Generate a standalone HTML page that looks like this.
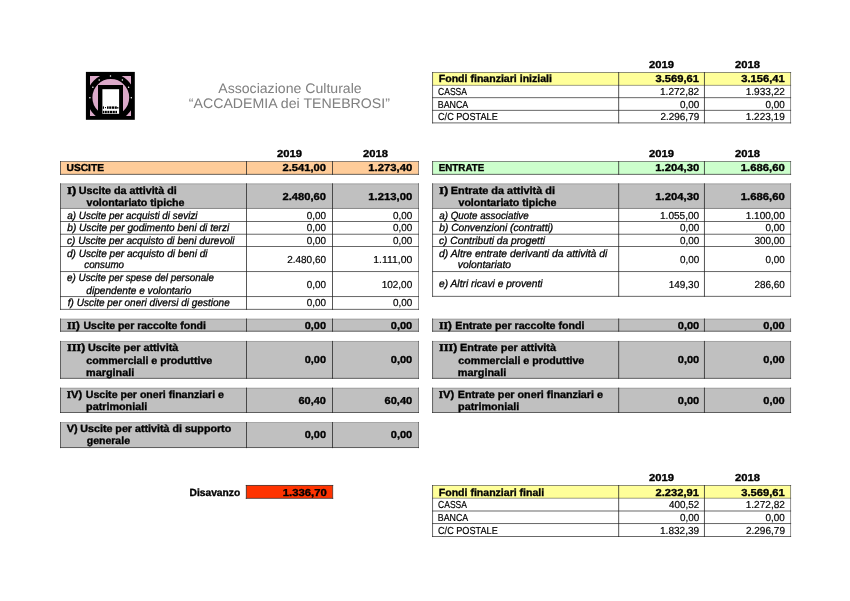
<!DOCTYPE html><html><head><meta charset="utf-8"><style>
html,body{margin:0;padding:0;background:#fff}
svg{display:block;font-family:"Liberation Sans", sans-serif;text-rendering:geometricPrecision}
</style></head><body><div style="position:relative;width:850px;height:601px;overflow:hidden"><svg width="850" height="601" viewBox="0 0 850 601"><rect x="432.60" y="72.50" width="358.00" height="12.80" fill="#ffff99"/><rect x="432.10" y="72.08" width="359.00" height="0.85" fill="#222" opacity="0.6"/><rect x="432.10" y="84.88" width="359.00" height="0.85" fill="#222" opacity="0.5"/><rect x="432.10" y="97.28" width="359.00" height="0.85" fill="#222" opacity="0.8"/><rect x="432.10" y="109.88" width="359.00" height="0.85" fill="#222" opacity="0.8"/><rect x="432.10" y="122.48" width="359.00" height="0.85" fill="#222" opacity="0.8"/><rect x="432.15" y="72.00" width="0.90" height="51.40" fill="#222" opacity="0.75"/><rect x="618.25" y="72.00" width="0.90" height="51.40" fill="#222" opacity="0.85"/><rect x="703.95" y="72.00" width="0.90" height="51.40" fill="#222" opacity="0.85"/><rect x="790.15" y="72.00" width="0.90" height="51.40" fill="#222" opacity="0.55"/><rect x="60.50" y="161.50" width="358.00" height="12.80" fill="#ffcc99"/><rect x="60.00" y="161.07" width="359.00" height="0.85" fill="#222" opacity="0.6"/><rect x="60.00" y="173.88" width="359.00" height="0.85" fill="#222" opacity="0.8"/><rect x="60.05" y="161.00" width="0.90" height="13.80" fill="#222" opacity="0.75"/><rect x="246.05" y="161.00" width="0.90" height="13.80" fill="#222" opacity="0.85"/><rect x="332.05" y="161.00" width="0.90" height="13.80" fill="#222" opacity="0.85"/><rect x="418.05" y="161.00" width="0.90" height="13.80" fill="#222" opacity="0.55"/><rect x="432.60" y="161.50" width="358.00" height="12.80" fill="#ccffcc"/><rect x="432.10" y="161.07" width="359.00" height="0.85" fill="#222" opacity="0.6"/><rect x="432.10" y="173.88" width="359.00" height="0.85" fill="#222" opacity="0.8"/><rect x="432.15" y="161.00" width="0.90" height="13.80" fill="#222" opacity="0.75"/><rect x="618.25" y="161.00" width="0.90" height="13.80" fill="#222" opacity="0.85"/><rect x="703.95" y="161.00" width="0.90" height="13.80" fill="#222" opacity="0.85"/><rect x="790.15" y="161.00" width="0.90" height="13.80" fill="#222" opacity="0.55"/><rect x="60.50" y="183.80" width="358.00" height="24.60" fill="#c0c0c0"/><rect x="60.00" y="183.38" width="359.00" height="0.85" fill="#222" opacity="0.35"/><rect x="60.00" y="207.97" width="359.00" height="0.85" fill="#222" opacity="0.55"/><rect x="60.00" y="221.07" width="359.00" height="0.85" fill="#222" opacity="0.8"/><rect x="60.00" y="233.77" width="359.00" height="0.85" fill="#222" opacity="0.8"/><rect x="60.00" y="246.07" width="359.00" height="0.85" fill="#222" opacity="0.8"/><rect x="60.00" y="271.18" width="359.00" height="0.85" fill="#222" opacity="0.8"/><rect x="60.00" y="296.18" width="359.00" height="0.85" fill="#222" opacity="0.8"/><rect x="60.00" y="308.88" width="359.00" height="0.85" fill="#222" opacity="0.8"/><rect x="60.05" y="183.30" width="0.90" height="126.50" fill="#222" opacity="0.75"/><rect x="246.05" y="183.30" width="0.90" height="126.50" fill="#222" opacity="0.85"/><rect x="332.05" y="183.30" width="0.90" height="126.50" fill="#222" opacity="0.85"/><rect x="418.05" y="183.30" width="0.90" height="126.50" fill="#222" opacity="0.55"/><rect x="432.60" y="183.80" width="358.00" height="24.60" fill="#c0c0c0"/><rect x="432.10" y="183.38" width="359.00" height="0.85" fill="#222" opacity="0.35"/><rect x="432.10" y="207.97" width="359.00" height="0.85" fill="#222" opacity="0.55"/><rect x="432.10" y="221.07" width="359.00" height="0.85" fill="#222" opacity="0.8"/><rect x="432.10" y="233.77" width="359.00" height="0.85" fill="#222" opacity="0.8"/><rect x="432.10" y="246.07" width="359.00" height="0.85" fill="#222" opacity="0.8"/><rect x="432.10" y="271.18" width="359.00" height="0.85" fill="#222" opacity="0.8"/><rect x="432.10" y="295.88" width="359.00" height="0.85" fill="#222" opacity="0.8"/><rect x="432.15" y="183.30" width="0.90" height="113.50" fill="#222" opacity="0.75"/><rect x="618.25" y="183.30" width="0.90" height="113.50" fill="#222" opacity="0.85"/><rect x="703.95" y="183.30" width="0.90" height="113.50" fill="#222" opacity="0.85"/><rect x="790.15" y="183.30" width="0.90" height="113.50" fill="#222" opacity="0.55"/><rect x="60.50" y="319.00" width="358.00" height="12.20" fill="#c0c0c0"/><rect x="60.00" y="318.57" width="359.00" height="0.85" fill="#222" opacity="0.35"/><rect x="60.00" y="330.77" width="359.00" height="0.85" fill="#222" opacity="0.8"/><rect x="60.05" y="318.50" width="0.90" height="13.20" fill="#222" opacity="0.75"/><rect x="246.05" y="318.50" width="0.90" height="13.20" fill="#222" opacity="0.85"/><rect x="332.05" y="318.50" width="0.90" height="13.20" fill="#222" opacity="0.85"/><rect x="418.05" y="318.50" width="0.90" height="13.20" fill="#222" opacity="0.55"/><rect x="60.50" y="341.40" width="358.00" height="36.90" fill="#c0c0c0"/><rect x="60.00" y="340.97" width="359.00" height="0.85" fill="#222" opacity="0.35"/><rect x="60.00" y="377.88" width="359.00" height="0.85" fill="#222" opacity="0.8"/><rect x="60.05" y="340.90" width="0.90" height="37.90" fill="#222" opacity="0.75"/><rect x="246.05" y="340.90" width="0.90" height="37.90" fill="#222" opacity="0.85"/><rect x="332.05" y="340.90" width="0.90" height="37.90" fill="#222" opacity="0.85"/><rect x="418.05" y="340.90" width="0.90" height="37.90" fill="#222" opacity="0.55"/><rect x="60.50" y="388.10" width="358.00" height="24.40" fill="#c0c0c0"/><rect x="60.00" y="387.68" width="359.00" height="0.85" fill="#222" opacity="0.35"/><rect x="60.00" y="412.07" width="359.00" height="0.85" fill="#222" opacity="0.8"/><rect x="60.05" y="387.60" width="0.90" height="25.40" fill="#222" opacity="0.75"/><rect x="246.05" y="387.60" width="0.90" height="25.40" fill="#222" opacity="0.85"/><rect x="332.05" y="387.60" width="0.90" height="25.40" fill="#222" opacity="0.85"/><rect x="418.05" y="387.60" width="0.90" height="25.40" fill="#222" opacity="0.55"/><rect x="432.60" y="319.00" width="358.00" height="12.20" fill="#c0c0c0"/><rect x="432.10" y="318.57" width="359.00" height="0.85" fill="#222" opacity="0.35"/><rect x="432.10" y="330.77" width="359.00" height="0.85" fill="#222" opacity="0.8"/><rect x="432.15" y="318.50" width="0.90" height="13.20" fill="#222" opacity="0.75"/><rect x="618.25" y="318.50" width="0.90" height="13.20" fill="#222" opacity="0.85"/><rect x="703.95" y="318.50" width="0.90" height="13.20" fill="#222" opacity="0.85"/><rect x="790.15" y="318.50" width="0.90" height="13.20" fill="#222" opacity="0.55"/><rect x="432.60" y="341.40" width="358.00" height="36.90" fill="#c0c0c0"/><rect x="432.10" y="340.97" width="359.00" height="0.85" fill="#222" opacity="0.35"/><rect x="432.10" y="377.88" width="359.00" height="0.85" fill="#222" opacity="0.8"/><rect x="432.15" y="340.90" width="0.90" height="37.90" fill="#222" opacity="0.75"/><rect x="618.25" y="340.90" width="0.90" height="37.90" fill="#222" opacity="0.85"/><rect x="703.95" y="340.90" width="0.90" height="37.90" fill="#222" opacity="0.85"/><rect x="790.15" y="340.90" width="0.90" height="37.90" fill="#222" opacity="0.55"/><rect x="432.60" y="388.10" width="358.00" height="24.40" fill="#c0c0c0"/><rect x="432.10" y="387.68" width="359.00" height="0.85" fill="#222" opacity="0.35"/><rect x="432.10" y="412.07" width="359.00" height="0.85" fill="#222" opacity="0.8"/><rect x="432.15" y="387.60" width="0.90" height="25.40" fill="#222" opacity="0.75"/><rect x="618.25" y="387.60" width="0.90" height="25.40" fill="#222" opacity="0.85"/><rect x="703.95" y="387.60" width="0.90" height="25.40" fill="#222" opacity="0.85"/><rect x="790.15" y="387.60" width="0.90" height="25.40" fill="#222" opacity="0.55"/><rect x="60.50" y="422.50" width="358.00" height="25.10" fill="#c0c0c0"/><rect x="60.00" y="422.07" width="359.00" height="0.85" fill="#222" opacity="0.35"/><rect x="60.00" y="447.18" width="359.00" height="0.85" fill="#222" opacity="0.8"/><rect x="60.05" y="422.00" width="0.90" height="26.10" fill="#222" opacity="0.75"/><rect x="246.05" y="422.00" width="0.90" height="26.10" fill="#222" opacity="0.85"/><rect x="332.05" y="422.00" width="0.90" height="26.10" fill="#222" opacity="0.85"/><rect x="418.05" y="422.00" width="0.90" height="26.10" fill="#222" opacity="0.55"/><rect x="246.30" y="485.30" width="86.40" height="13.00" fill="#ff3300"/><rect x="245.80" y="484.97" width="87.40" height="0.85" fill="#222" opacity="0.8"/><rect x="245.80" y="497.88" width="87.40" height="0.85" fill="#222" opacity="0.8"/><rect x="245.85" y="485.00" width="0.90" height="13.80" fill="#222" opacity="0.8"/><rect x="332.25" y="485.00" width="0.90" height="13.80" fill="#222" opacity="0.7"/><rect x="432.60" y="485.50" width="358.00" height="12.70" fill="#ffff99"/><rect x="432.10" y="485.07" width="359.00" height="0.85" fill="#222" opacity="0.6"/><rect x="432.10" y="497.77" width="359.00" height="0.85" fill="#222" opacity="0.5"/><rect x="432.10" y="510.57" width="359.00" height="0.85" fill="#222" opacity="0.8"/><rect x="432.10" y="523.18" width="359.00" height="0.85" fill="#222" opacity="0.8"/><rect x="432.10" y="536.08" width="359.00" height="0.85" fill="#222" opacity="0.8"/><rect x="432.15" y="485.00" width="0.90" height="52.00" fill="#222" opacity="0.75"/><rect x="618.25" y="485.00" width="0.90" height="52.00" fill="#222" opacity="0.85"/><rect x="703.95" y="485.00" width="0.90" height="52.00" fill="#222" opacity="0.85"/><rect x="790.15" y="485.00" width="0.90" height="52.00" fill="#222" opacity="0.55"/><g>
<rect x="85.9" y="71.9" width="48.9" height="47.9" fill="#000"/>
<rect x="90" y="76" width="41" height="40" fill="#dcaaca"/>
<clipPath id="lc"><rect x="90" y="76" width="41" height="40"/></clipPath>
<g clip-path="url(#lc)"><circle cx="110.8" cy="97.4" r="21.15" fill="none" stroke="#000" stroke-width="5.5"/></g>
<rect x="98" y="85" width="25" height="33" fill="#000"/>
<rect x="102.4" y="89.2" width="16.7" height="24.6" fill="#fff"/>
<g fill="#000"><rect x="102.8" y="106.4" width="1.2" height="2.4"/><rect x="105" y="107" width="1" height="1.2"/><rect x="107" y="106.4" width="1.6" height="2.4"/><rect x="109.2" y="106.4" width="2.2" height="2.4"/><rect x="112" y="106.4" width="2.4" height="2.4"/><rect x="115" y="106.4" width="1.8" height="2.4"/><rect x="117.2" y="107" width="1.2" height="1.6"/>
<rect x="102.8" y="110.8" width="1.6" height="2.4"/><rect x="105" y="110.8" width="1.8" height="2.4"/><rect x="107.4" y="110.8" width="1.8" height="2.4"/><rect x="109.8" y="110.8" width="2.2" height="2.4"/><rect x="112.6" y="110.8" width="2.2" height="2.4"/><rect x="115.4" y="110.8" width="1.6" height="2.4"/></g>
<g fill="#fff"><circle cx="110.5" cy="76.1" r=".75"/><circle cx="122.4" cy="80" r=".75"/><circle cx="99.2" cy="80" r=".75"/><circle cx="128.6" cy="87.2" r=".75"/><circle cx="92.9" cy="87.2" r=".75"/><circle cx="131.3" cy="97.8" r=".75"/><circle cx="89.9" cy="97.8" r=".75"/></g>
</g>
</svg><div style="position:absolute;left:0;top:0;will-change:transform;opacity:.999"><svg width="850" height="601" viewBox="0 0 850 601"><text x="218.26" y="92.80" textLength="143.44" lengthAdjust="spacingAndGlyphs" font-size="13.8" fill="#808080" style="">Associazione Culturale</text><text x="188.78" y="108.30" textLength="201.18" lengthAdjust="spacingAndGlyphs" font-size="13.8" fill="#808080" style="">“ACCADEMIA dei TENEBROSI”</text><text x="649.02" y="68.00" textLength="24.97" lengthAdjust="spacingAndGlyphs" font-size="10.1" fill="#000" style="font-weight:bold;stroke:#000;stroke-width:.35px">2019</text><text x="735.02" y="68.00" textLength="24.96" lengthAdjust="spacingAndGlyphs" font-size="10.1" fill="#000" style="font-weight:bold;stroke:#000;stroke-width:.35px">2018</text><text x="277.02" y="157.00" textLength="24.96" lengthAdjust="spacingAndGlyphs" font-size="10.1" fill="#000" style="font-weight:bold;stroke:#000;stroke-width:.35px">2019</text><text x="363.02" y="157.00" textLength="24.96" lengthAdjust="spacingAndGlyphs" font-size="10.1" fill="#000" style="font-weight:bold;stroke:#000;stroke-width:.35px">2018</text><text x="649.02" y="157.00" textLength="24.97" lengthAdjust="spacingAndGlyphs" font-size="10.1" fill="#000" style="font-weight:bold;stroke:#000;stroke-width:.35px">2019</text><text x="735.02" y="157.00" textLength="24.96" lengthAdjust="spacingAndGlyphs" font-size="10.1" fill="#000" style="font-weight:bold;stroke:#000;stroke-width:.35px">2018</text><text x="649.02" y="481.00" textLength="24.97" lengthAdjust="spacingAndGlyphs" font-size="10.1" fill="#000" style="font-weight:bold;stroke:#000;stroke-width:.35px">2019</text><text x="735.02" y="481.00" textLength="24.96" lengthAdjust="spacingAndGlyphs" font-size="10.1" fill="#000" style="font-weight:bold;stroke:#000;stroke-width:.35px">2018</text><text x="438.79" y="82.00" textLength="113.18" lengthAdjust="spacingAndGlyphs" font-size="10.4" fill="#000" style="font-weight:bold;stroke:#000;stroke-width:.35px">Fondi finanziari iniziali</text><text x="438.03" y="95.00" textLength="28.97" lengthAdjust="spacingAndGlyphs" font-size="10.1" fill="#000" style="stroke:#000;stroke-width:.2px">CASSA</text><text x="437.81" y="108.00" textLength="30.46" lengthAdjust="spacingAndGlyphs" font-size="10.1" fill="#000" style="stroke:#000;stroke-width:.2px">BANCA</text><text x="438.03" y="120.00" textLength="59.71" lengthAdjust="spacingAndGlyphs" font-size="10.1" fill="#000" style="stroke:#000;stroke-width:.2px">C/C POSTALE</text><text x="655.52" y="82.00" textLength="43.48" lengthAdjust="spacingAndGlyphs" font-size="10.1" fill="#000" style="font-weight:bold;stroke:#000;stroke-width:.35px">3.569,61</text><text x="741.26" y="82.00" textLength="43.48" lengthAdjust="spacingAndGlyphs" font-size="10.1" fill="#000" style="font-weight:bold;stroke:#000;stroke-width:.35px">3.156,41</text><text x="659.98" y="95.00" textLength="39.27" lengthAdjust="spacingAndGlyphs" font-size="10.1" fill="#000" style="stroke:#000;stroke-width:.2px">1.272,82</text><text x="745.71" y="95.00" textLength="39.27" lengthAdjust="spacingAndGlyphs" font-size="10.1" fill="#000" style="stroke:#000;stroke-width:.2px">1.933,22</text><text x="679.96" y="108.00" textLength="19.27" lengthAdjust="spacingAndGlyphs" font-size="10.1" fill="#000" style="stroke:#000;stroke-width:.2px">0,00</text><text x="765.47" y="108.00" textLength="19.27" lengthAdjust="spacingAndGlyphs" font-size="10.1" fill="#000" style="stroke:#000;stroke-width:.2px">0,00</text><text x="660.43" y="120.00" textLength="38.80" lengthAdjust="spacingAndGlyphs" font-size="10.1" fill="#000" style="stroke:#000;stroke-width:.2px">2.296,79</text><text x="745.71" y="120.00" textLength="39.04" lengthAdjust="spacingAndGlyphs" font-size="10.1" fill="#000" style="stroke:#000;stroke-width:.2px">1.223,19</text><text x="66.53" y="171.00" textLength="37.45" lengthAdjust="spacingAndGlyphs" font-size="10.1" fill="#000" style="font-weight:bold;stroke:#000;stroke-width:.35px">USCITE</text><text x="282.51" y="171.00" textLength="43.48" lengthAdjust="spacingAndGlyphs" font-size="10.1" fill="#000" style="font-weight:bold;stroke:#000;stroke-width:.35px">2.541,00</text><text x="368.31" y="171.00" textLength="43.94" lengthAdjust="spacingAndGlyphs" font-size="10.1" fill="#000" style="font-weight:bold;stroke:#000;stroke-width:.35px">1.273,40</text><text x="438.79" y="171.00" textLength="45.46" lengthAdjust="spacingAndGlyphs" font-size="10.1" fill="#000" style="font-weight:bold;stroke:#000;stroke-width:.35px">ENTRATE</text><text x="655.30" y="171.00" textLength="43.94" lengthAdjust="spacingAndGlyphs" font-size="10.1" fill="#000" style="font-weight:bold;stroke:#000;stroke-width:.35px">1.204,30</text><text x="740.81" y="171.00" textLength="43.94" lengthAdjust="spacingAndGlyphs" font-size="10.1" fill="#000" style="font-weight:bold;stroke:#000;stroke-width:.35px">1.686,60</text><text x="67.02" y="194.00" textLength="9.48" lengthAdjust="spacingAndGlyphs" font-size="10.4" fill="#000" style="font-weight:bold;stroke:#000;stroke-width:.35px"><tspan font-family="Liberation Serif">I</tspan>)</text><text x="78.80" y="194.00" textLength="97.91" lengthAdjust="spacingAndGlyphs" font-size="10.4" fill="#000" style="font-weight:bold;stroke:#000;stroke-width:.35px">Uscite da attività di</text><text x="86.48" y="206.00" textLength="98.01" lengthAdjust="spacingAndGlyphs" font-size="10.4" fill="#000" style="font-weight:bold;stroke:#000;stroke-width:.35px">volontariato tipiche</text><text x="282.51" y="200.00" textLength="43.48" lengthAdjust="spacingAndGlyphs" font-size="10.1" fill="#000" style="font-weight:bold;stroke:#000;stroke-width:.35px">2.480,60</text><text x="368.31" y="200.00" textLength="43.94" lengthAdjust="spacingAndGlyphs" font-size="10.1" fill="#000" style="font-weight:bold;stroke:#000;stroke-width:.35px">1.213,00</text><text x="67.25" y="219.00" textLength="130.31" lengthAdjust="spacingAndGlyphs" font-size="10.4" fill="#000" style="font-style:italic;stroke:#000;stroke-width:.3px">a) Uscite per acquisti di sevizi</text><text x="306.73" y="219.00" textLength="19.27" lengthAdjust="spacingAndGlyphs" font-size="10.1" fill="#000" style="stroke:#000;stroke-width:.2px">0,00</text><text x="392.97" y="219.00" textLength="19.27" lengthAdjust="spacingAndGlyphs" font-size="10.1" fill="#000" style="stroke:#000;stroke-width:.2px">0,00</text><text x="67.25" y="231.00" textLength="162.04" lengthAdjust="spacingAndGlyphs" font-size="10.4" fill="#000" style="font-style:italic;stroke:#000;stroke-width:.3px">b) Uscite per godimento beni di terzi</text><text x="306.73" y="231.00" textLength="19.27" lengthAdjust="spacingAndGlyphs" font-size="10.1" fill="#000" style="stroke:#000;stroke-width:.2px">0,00</text><text x="392.97" y="231.00" textLength="19.27" lengthAdjust="spacingAndGlyphs" font-size="10.1" fill="#000" style="stroke:#000;stroke-width:.2px">0,00</text><text x="67.02" y="244.00" textLength="167.53" lengthAdjust="spacingAndGlyphs" font-size="10.4" fill="#000" style="font-style:italic;stroke:#000;stroke-width:.3px">c) Uscite per acquisto di beni durevoli</text><text x="306.73" y="244.00" textLength="19.27" lengthAdjust="spacingAndGlyphs" font-size="10.1" fill="#000" style="stroke:#000;stroke-width:.2px">0,00</text><text x="392.97" y="244.00" textLength="19.27" lengthAdjust="spacingAndGlyphs" font-size="10.1" fill="#000" style="stroke:#000;stroke-width:.2px">0,00</text><text x="67.02" y="257.00" textLength="140.52" lengthAdjust="spacingAndGlyphs" font-size="10.4" fill="#000" style="font-style:italic;stroke:#000;stroke-width:.3px">d) Uscite per acquisto di beni di</text><text x="84.27" y="268.00" textLength="39.73" lengthAdjust="spacingAndGlyphs" font-size="10.4" fill="#000" style="font-style:italic;stroke:#000;stroke-width:.3px">consumo</text><text x="287.19" y="263.00" textLength="38.80" lengthAdjust="spacingAndGlyphs" font-size="10.1" fill="#000" style="stroke:#000;stroke-width:.2px">2.480,60</text><text x="373.21" y="263.00" textLength="39.04" lengthAdjust="spacingAndGlyphs" font-size="10.1" fill="#000" style="stroke:#000;stroke-width:.2px">1.111,00</text><text x="67.02" y="281.00" textLength="146.96" lengthAdjust="spacingAndGlyphs" font-size="10.4" fill="#000" style="font-style:italic;stroke:#000;stroke-width:.3px">e) Uscite per spese del personale</text><text x="86.25" y="294.00" textLength="105.25" lengthAdjust="spacingAndGlyphs" font-size="10.4" fill="#000" style="font-style:italic;stroke:#000;stroke-width:.3px">dipendente e volontario</text><text x="306.73" y="288.00" textLength="19.27" lengthAdjust="spacingAndGlyphs" font-size="10.1" fill="#000" style="stroke:#000;stroke-width:.2px">0,00</text><text x="381.67" y="288.00" textLength="30.59" lengthAdjust="spacingAndGlyphs" font-size="10.1" fill="#000" style="stroke:#000;stroke-width:.2px">102,00</text><text x="67.78" y="306.00" textLength="161.96" lengthAdjust="spacingAndGlyphs" font-size="10.4" fill="#000" style="font-style:italic;stroke:#000;stroke-width:.3px">f) Uscite per oneri diversi di gestione</text><text x="306.73" y="306.00" textLength="19.27" lengthAdjust="spacingAndGlyphs" font-size="10.1" fill="#000" style="stroke:#000;stroke-width:.2px">0,00</text><text x="392.97" y="306.00" textLength="19.27" lengthAdjust="spacingAndGlyphs" font-size="10.1" fill="#000" style="stroke:#000;stroke-width:.2px">0,00</text><text x="67.02" y="329.00" textLength="12.96" lengthAdjust="spacingAndGlyphs" font-size="10.4" fill="#000" style="font-weight:bold;stroke:#000;stroke-width:.35px"><tspan font-family="Liberation Serif">II</tspan>)</text><text x="83.52" y="329.00" textLength="122.44" lengthAdjust="spacingAndGlyphs" font-size="10.4" fill="#000" style="font-weight:bold;stroke:#000;stroke-width:.35px">Uscite per raccolte fondi</text><text x="304.75" y="329.00" textLength="21.24" lengthAdjust="spacingAndGlyphs" font-size="10.1" fill="#000" style="font-weight:bold;stroke:#000;stroke-width:.35px">0,00</text><text x="390.77" y="329.00" textLength="21.47" lengthAdjust="spacingAndGlyphs" font-size="10.1" fill="#000" style="font-weight:bold;stroke:#000;stroke-width:.35px">0,00</text><text x="67.02" y="351.00" textLength="18.45" lengthAdjust="spacingAndGlyphs" font-size="10.4" fill="#000" style="font-weight:bold;stroke:#000;stroke-width:.35px"><tspan font-family="Liberation Serif">III</tspan>)</text><text x="88.04" y="351.00" textLength="90.24" lengthAdjust="spacingAndGlyphs" font-size="10.4" fill="#000" style="font-weight:bold;stroke:#000;stroke-width:.35px">Uscite per attività</text><text x="86.25" y="364.00" textLength="125.99" lengthAdjust="spacingAndGlyphs" font-size="10.4" fill="#000" style="font-weight:bold;stroke:#000;stroke-width:.35px">commerciali e produttive</text><text x="86.03" y="376.00" textLength="48.19" lengthAdjust="spacingAndGlyphs" font-size="10.4" fill="#000" style="font-weight:bold;stroke:#000;stroke-width:.35px">marginali</text><text x="304.75" y="363.00" textLength="21.24" lengthAdjust="spacingAndGlyphs" font-size="10.1" fill="#000" style="font-weight:bold;stroke:#000;stroke-width:.35px">0,00</text><text x="390.77" y="363.00" textLength="21.47" lengthAdjust="spacingAndGlyphs" font-size="10.1" fill="#000" style="font-weight:bold;stroke:#000;stroke-width:.35px">0,00</text><text x="66.77" y="398.00" textLength="15.47" lengthAdjust="spacingAndGlyphs" font-size="10.4" fill="#000" style="font-weight:bold;stroke:#000;stroke-width:.35px"><tspan font-family="Liberation Serif">I</tspan>V)</text><text x="85.78" y="398.00" textLength="138.21" lengthAdjust="spacingAndGlyphs" font-size="10.4" fill="#000" style="font-weight:bold;stroke:#000;stroke-width:.35px">Uscite per oneri finanziari e</text><text x="86.05" y="410.00" textLength="61.17" lengthAdjust="spacingAndGlyphs" font-size="10.4" fill="#000" style="font-weight:bold;stroke:#000;stroke-width:.35px">patrimoniali</text><text x="298.50" y="404.00" textLength="27.49" lengthAdjust="spacingAndGlyphs" font-size="10.1" fill="#000" style="font-weight:bold;stroke:#000;stroke-width:.35px">60,40</text><text x="384.52" y="404.00" textLength="27.72" lengthAdjust="spacingAndGlyphs" font-size="10.1" fill="#000" style="font-weight:bold;stroke:#000;stroke-width:.35px">60,40</text><text x="66.75" y="432.00" textLength="10.99" lengthAdjust="spacingAndGlyphs" font-size="10.4" fill="#000" style="font-weight:bold;stroke:#000;stroke-width:.35px">V)</text><text x="80.30" y="432.00" textLength="150.93" lengthAdjust="spacingAndGlyphs" font-size="10.4" fill="#000" style="font-weight:bold;stroke:#000;stroke-width:.35px">Uscite per attività di supporto</text><text x="86.75" y="444.00" textLength="43.23" lengthAdjust="spacingAndGlyphs" font-size="10.4" fill="#000" style="font-weight:bold;stroke:#000;stroke-width:.35px">generale</text><text x="304.75" y="438.00" textLength="21.24" lengthAdjust="spacingAndGlyphs" font-size="10.1" fill="#000" style="font-weight:bold;stroke:#000;stroke-width:.35px">0,00</text><text x="390.77" y="438.00" textLength="21.47" lengthAdjust="spacingAndGlyphs" font-size="10.1" fill="#000" style="font-weight:bold;stroke:#000;stroke-width:.35px">0,00</text><text x="439.02" y="194.00" textLength="9.48" lengthAdjust="spacingAndGlyphs" font-size="10.4" fill="#000" style="font-weight:bold;stroke:#000;stroke-width:.35px"><tspan font-family="Liberation Serif">I</tspan>)</text><text x="450.79" y="194.00" textLength="104.16" lengthAdjust="spacingAndGlyphs" font-size="10.4" fill="#000" style="font-weight:bold;stroke:#000;stroke-width:.35px">Entrate da attività di</text><text x="458.48" y="206.00" textLength="98.01" lengthAdjust="spacingAndGlyphs" font-size="10.4" fill="#000" style="font-weight:bold;stroke:#000;stroke-width:.35px">volontariato tipiche</text><text x="655.30" y="200.00" textLength="43.94" lengthAdjust="spacingAndGlyphs" font-size="10.1" fill="#000" style="font-weight:bold;stroke:#000;stroke-width:.35px">1.204,30</text><text x="740.81" y="200.00" textLength="43.94" lengthAdjust="spacingAndGlyphs" font-size="10.1" fill="#000" style="font-weight:bold;stroke:#000;stroke-width:.35px">1.686,60</text><text x="439.24" y="219.00" textLength="89.49" lengthAdjust="spacingAndGlyphs" font-size="10.4" fill="#000" style="font-style:italic;stroke:#000;stroke-width:.3px">a) Quote associative</text><text x="659.98" y="219.00" textLength="39.27" lengthAdjust="spacingAndGlyphs" font-size="10.1" fill="#000" style="stroke:#000;stroke-width:.2px">1.055,00</text><text x="745.71" y="219.00" textLength="39.03" lengthAdjust="spacingAndGlyphs" font-size="10.1" fill="#000" style="stroke:#000;stroke-width:.2px">1.100,00</text><text x="439.24" y="231.00" textLength="113.97" lengthAdjust="spacingAndGlyphs" font-size="10.4" fill="#000" style="font-style:italic;stroke:#000;stroke-width:.3px">b) Convenzioni (contratti)</text><text x="679.96" y="231.00" textLength="19.27" lengthAdjust="spacingAndGlyphs" font-size="10.1" fill="#000" style="stroke:#000;stroke-width:.2px">0,00</text><text x="765.47" y="231.00" textLength="19.27" lengthAdjust="spacingAndGlyphs" font-size="10.1" fill="#000" style="stroke:#000;stroke-width:.2px">0,00</text><text x="439.02" y="244.00" textLength="106.02" lengthAdjust="spacingAndGlyphs" font-size="10.4" fill="#000" style="font-style:italic;stroke:#000;stroke-width:.3px">c) Contributi da progetti</text><text x="679.96" y="244.00" textLength="19.27" lengthAdjust="spacingAndGlyphs" font-size="10.1" fill="#000" style="stroke:#000;stroke-width:.2px">0,00</text><text x="754.39" y="244.00" textLength="30.35" lengthAdjust="spacingAndGlyphs" font-size="10.1" fill="#000" style="stroke:#000;stroke-width:.2px">300,00</text><text x="439.02" y="257.00" textLength="168.28" lengthAdjust="spacingAndGlyphs" font-size="10.4" fill="#000" style="font-style:italic;stroke:#000;stroke-width:.3px">d) Altre entrate derivanti da attività di</text><text x="457.81" y="268.00" textLength="53.20" lengthAdjust="spacingAndGlyphs" font-size="10.4" fill="#000" style="font-style:italic;stroke:#000;stroke-width:.3px">volontariato</text><text x="679.96" y="263.00" textLength="19.27" lengthAdjust="spacingAndGlyphs" font-size="10.1" fill="#000" style="stroke:#000;stroke-width:.2px">0,00</text><text x="765.47" y="263.00" textLength="19.27" lengthAdjust="spacingAndGlyphs" font-size="10.1" fill="#000" style="stroke:#000;stroke-width:.2px">0,00</text><text x="439.02" y="287.00" textLength="103.51" lengthAdjust="spacingAndGlyphs" font-size="10.4" fill="#000" style="font-style:italic;stroke:#000;stroke-width:.3px">e) Altri ricavi e proventi</text><text x="668.66" y="288.00" textLength="30.59" lengthAdjust="spacingAndGlyphs" font-size="10.1" fill="#000" style="stroke:#000;stroke-width:.2px">149,30</text><text x="754.39" y="288.00" textLength="30.35" lengthAdjust="spacingAndGlyphs" font-size="10.1" fill="#000" style="stroke:#000;stroke-width:.2px">286,60</text><text x="439.02" y="329.00" textLength="12.96" lengthAdjust="spacingAndGlyphs" font-size="10.4" fill="#000" style="font-weight:bold;stroke:#000;stroke-width:.35px"><tspan font-family="Liberation Serif">II</tspan>)</text><text x="455.29" y="329.00" textLength="129.18" lengthAdjust="spacingAndGlyphs" font-size="10.4" fill="#000" style="font-weight:bold;stroke:#000;stroke-width:.35px">Entrate per raccolte fondi</text><text x="677.76" y="329.00" textLength="21.47" lengthAdjust="spacingAndGlyphs" font-size="10.1" fill="#000" style="font-weight:bold;stroke:#000;stroke-width:.35px">0,00</text><text x="763.27" y="329.00" textLength="21.47" lengthAdjust="spacingAndGlyphs" font-size="10.1" fill="#000" style="font-weight:bold;stroke:#000;stroke-width:.35px">0,00</text><text x="439.02" y="351.00" textLength="18.45" lengthAdjust="spacingAndGlyphs" font-size="10.4" fill="#000" style="font-weight:bold;stroke:#000;stroke-width:.35px"><tspan font-family="Liberation Serif">III</tspan>)</text><text x="460.04" y="351.00" textLength="96.00" lengthAdjust="spacingAndGlyphs" font-size="10.4" fill="#000" style="font-weight:bold;stroke:#000;stroke-width:.35px">Entrate per attività</text><text x="458.26" y="364.00" textLength="125.99" lengthAdjust="spacingAndGlyphs" font-size="10.4" fill="#000" style="font-weight:bold;stroke:#000;stroke-width:.35px">commerciali e produttive</text><text x="457.81" y="376.00" textLength="48.42" lengthAdjust="spacingAndGlyphs" font-size="10.4" fill="#000" style="font-weight:bold;stroke:#000;stroke-width:.35px">marginali</text><text x="677.76" y="363.00" textLength="21.47" lengthAdjust="spacingAndGlyphs" font-size="10.1" fill="#000" style="font-weight:bold;stroke:#000;stroke-width:.35px">0,00</text><text x="763.27" y="363.00" textLength="21.47" lengthAdjust="spacingAndGlyphs" font-size="10.1" fill="#000" style="font-weight:bold;stroke:#000;stroke-width:.35px">0,00</text><text x="438.76" y="398.00" textLength="15.47" lengthAdjust="spacingAndGlyphs" font-size="10.4" fill="#000" style="font-weight:bold;stroke:#000;stroke-width:.35px"><tspan font-family="Liberation Serif">I</tspan>V)</text><text x="457.79" y="398.00" textLength="145.22" lengthAdjust="spacingAndGlyphs" font-size="10.4" fill="#000" style="font-weight:bold;stroke:#000;stroke-width:.35px">Entrate per oneri finanziari e</text><text x="458.05" y="410.00" textLength="61.17" lengthAdjust="spacingAndGlyphs" font-size="10.4" fill="#000" style="font-weight:bold;stroke:#000;stroke-width:.35px">patrimoniali</text><text x="677.76" y="404.00" textLength="21.47" lengthAdjust="spacingAndGlyphs" font-size="10.1" fill="#000" style="font-weight:bold;stroke:#000;stroke-width:.35px">0,00</text><text x="763.27" y="404.00" textLength="21.47" lengthAdjust="spacingAndGlyphs" font-size="10.1" fill="#000" style="font-weight:bold;stroke:#000;stroke-width:.35px">0,00</text><text x="189.54" y="496.00" textLength="50.69" lengthAdjust="spacingAndGlyphs" font-size="10.4" fill="#000" style="font-weight:bold;stroke:#000;stroke-width:.35px">Disavanzo</text><text x="282.79" y="496.00" textLength="43.94" lengthAdjust="spacingAndGlyphs" font-size="10.1" fill="#000" style="font-weight:bold;stroke:#000;stroke-width:.35px">1.336,70</text><text x="438.79" y="496.00" textLength="105.43" lengthAdjust="spacingAndGlyphs" font-size="10.4" fill="#000" style="font-weight:bold;stroke:#000;stroke-width:.35px">Fondi finanziari finali</text><text x="655.52" y="496.00" textLength="43.48" lengthAdjust="spacingAndGlyphs" font-size="10.1" fill="#000" style="font-weight:bold;stroke:#000;stroke-width:.35px">2.232,91</text><text x="741.26" y="496.00" textLength="43.48" lengthAdjust="spacingAndGlyphs" font-size="10.1" fill="#000" style="font-weight:bold;stroke:#000;stroke-width:.35px">3.569,61</text><text x="438.03" y="508.00" textLength="28.97" lengthAdjust="spacingAndGlyphs" font-size="10.1" fill="#000" style="stroke:#000;stroke-width:.2px">CASSA</text><text x="669.11" y="508.00" textLength="30.12" lengthAdjust="spacingAndGlyphs" font-size="10.1" fill="#000" style="stroke:#000;stroke-width:.2px">400,52</text><text x="745.71" y="508.00" textLength="39.27" lengthAdjust="spacingAndGlyphs" font-size="10.1" fill="#000" style="stroke:#000;stroke-width:.2px">1.272,82</text><text x="437.81" y="521.00" textLength="30.46" lengthAdjust="spacingAndGlyphs" font-size="10.1" fill="#000" style="stroke:#000;stroke-width:.2px">BANCA</text><text x="679.96" y="521.00" textLength="19.27" lengthAdjust="spacingAndGlyphs" font-size="10.1" fill="#000" style="stroke:#000;stroke-width:.2px">0,00</text><text x="765.47" y="521.00" textLength="19.27" lengthAdjust="spacingAndGlyphs" font-size="10.1" fill="#000" style="stroke:#000;stroke-width:.2px">0,00</text><text x="438.03" y="534.00" textLength="59.71" lengthAdjust="spacingAndGlyphs" font-size="10.1" fill="#000" style="stroke:#000;stroke-width:.2px">C/C POSTALE</text><text x="659.98" y="534.00" textLength="39.27" lengthAdjust="spacingAndGlyphs" font-size="10.1" fill="#000" style="stroke:#000;stroke-width:.2px">1.832,39</text><text x="745.94" y="534.00" textLength="39.03" lengthAdjust="spacingAndGlyphs" font-size="10.1" fill="#000" style="stroke:#000;stroke-width:.2px">2.296,79</text></svg></div></div></body></html>
